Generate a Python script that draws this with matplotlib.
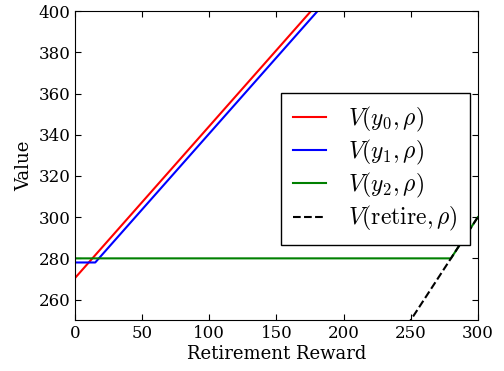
import matplotlib
matplotlib.use("Agg")
import matplotlib.pyplot as plt

rho_y0 = [0, 200]
val_y0 = [270.5, 417.9]

rho_y1 = [0, 15, 200]
val_y1 = [278, 278, 414.3]

rho_y2 = [0, 280, 300]
val_y2 = [280, 280, 300]

rho_retire = [0, 300]
val_retire = [0, 300]

labels = [r"$V(y_0,\rho)$", r"$V(y_1,\rho)$", r"$V(y_2,\rho)$",
          r"$V(\mathrm{retire},\rho)$"]


def main():
    plt.rcParams["font.family"] = "DejaVu Serif"
    plt.rcParams["mathtext.fontset"] = "cm"
    fig = plt.figure(figsize=(5.04, 3.71), dpi=100)
    ax = fig.add_axes([0.149, 0.137, 0.799, 0.833])

    ax.plot(rho_y0, val_y0, color="red", lw=1.5, label=labels[0])
    ax.plot(rho_y1, val_y1, color="blue", lw=1.5, label=labels[1])
    ax.plot(rho_y2, val_y2, color="green", lw=1.5, label=labels[2])
    ax.plot(rho_retire, val_retire, color="black", lw=1.5, ls="--", label=labels[3])

    ax.set_xlim(0, 300)
    ax.set_ylim(250, 400)
    ax.set_xticks(range(0, 301, 50))
    ax.set_yticks(range(260, 401, 20))
    ax.tick_params(direction="in", top=True, right=True, labelsize=12, length=4)
    ax.set_xlabel("Retirement Reward", fontsize=13, labelpad=2)
    ax.set_ylabel("Value", fontsize=13)

    leg = ax.legend(loc="upper left", bbox_to_anchor=(0.5575, 0.749),
                    bbox_transform=fig.transFigure, fontsize=17, fancybox=False,
                    framealpha=1, borderaxespad=0, handlelength=1.4,
                    handletextpad=0.95, labelspacing=0.17, borderpad=0.5)
    leg.get_frame().set_edgecolor("black")

    fig.savefig("out.png", dpi=100)


if __name__ == "__main__":
    main()
